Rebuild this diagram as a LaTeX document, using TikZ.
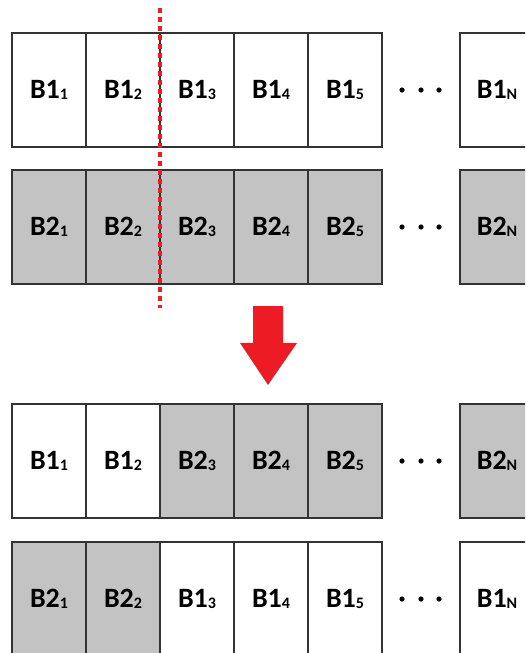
\documentclass[tikz,border=0pt]{standalone}
\usepackage{fontspec}
\setsansfont{Carlito}
\usepackage{tikz}
\usetikzlibrary{positioning}
\definecolor{cellgray}{HTML}{C3C3C3}
\definecolor{cutred}{HTML}{ED1C24}
\definecolor{ink}{HTML}{333333}
\newcommand{\bsub}[2]{B#1\raisebox{-.5pt}{\fontsize{16}{16}\selectfont#2}}

\begin{document}
\begin{tikzpicture}[
  x=1pt,y=-1pt,
  font=\sffamily\bfseries\fontsize{28}{30}\selectfont,
  cell/.style={draw=ink,line width=1.3pt,minimum width=74pt,minimum height=114pt,
               inner sep=0pt,outer sep=0pt,fill=white},
  graycell/.style={cell,fill=cellgray},
  cutline/.style={draw=cutred,line width=3.5pt,dash pattern=on 5pt off 4pt}
]
\useasboundingbox (0,0) rectangle (525,653);
\clip (0,0) rectangle (525,653);

% Block 1 before swap
\node[cell] (r1c1) at (49,90) {\bsub{1}{1}};
\node[cell,right=0pt of r1c1] (r1c2) {\bsub{1}{2}};
\node[cell,right=0pt of r1c2] (r1c3) {\bsub{1}{3}};
\node[cell,right=0pt of r1c3] (r1c4) {\bsub{1}{4}};
\node[cell,right=0pt of r1c4] (r1c5) {\bsub{1}{5}};
\node[cell] (r1cn) at (497,90) {\bsub{1}{N}};

% Block 2 before swap
\node[graycell] (r2c1) at (49,227) {\bsub{2}{1}};
\node[graycell,right=0pt of r2c1] (r2c2) {\bsub{2}{2}};
\node[graycell,right=0pt of r2c2] (r2c3) {\bsub{2}{3}};
\node[graycell,right=0pt of r2c3] (r2c4) {\bsub{2}{4}};
\node[graycell,right=0pt of r2c4] (r2c5) {\bsub{2}{5}};
\node[graycell] (r2cn) at (497,227) {\bsub{2}{N}};

% cut point
\draw[cutline] (160,8) -- (160,308);

% swap arrow
\fill[cutred] (253,306) -- (283,306) -- (283,343) -- (297,343) -- (268,385)
  -- (240,343) -- (253,343) -- cycle;

% Block 1 after swap
\node[cell] (r3c1) at (49,461) {\bsub{1}{1}};
\node[cell,right=0pt of r3c1] (r3c2) {\bsub{1}{2}};
\node[graycell,right=0pt of r3c2] (r3c3) {\bsub{2}{3}};
\node[graycell,right=0pt of r3c3] (r3c4) {\bsub{2}{4}};
\node[graycell,right=0pt of r3c4] (r3c5) {\bsub{2}{5}};
\node[graycell] (r3cn) at (497,461) {\bsub{2}{N}};

% Block 2 after swap
\node[graycell] (r4c1) at (49,599) {\bsub{2}{1}};
\node[graycell,right=0pt of r4c1] (r4c2) {\bsub{2}{2}};
\node[cell,right=0pt of r4c2] (r4c3) {\bsub{1}{3}};
\node[cell,right=0pt of r4c3] (r4c4) {\bsub{1}{4}};
\node[cell,right=0pt of r4c4] (r4c5) {\bsub{1}{5}};
\node[cell] (r4cn) at (497,599) {\bsub{1}{N}};

% ellipses
\foreach \y in {90,227,461,599}
  \foreach \x in {402,421,439}
    \fill[black] (\x,\y) circle (2.6);
\end{tikzpicture}
\end{document}
